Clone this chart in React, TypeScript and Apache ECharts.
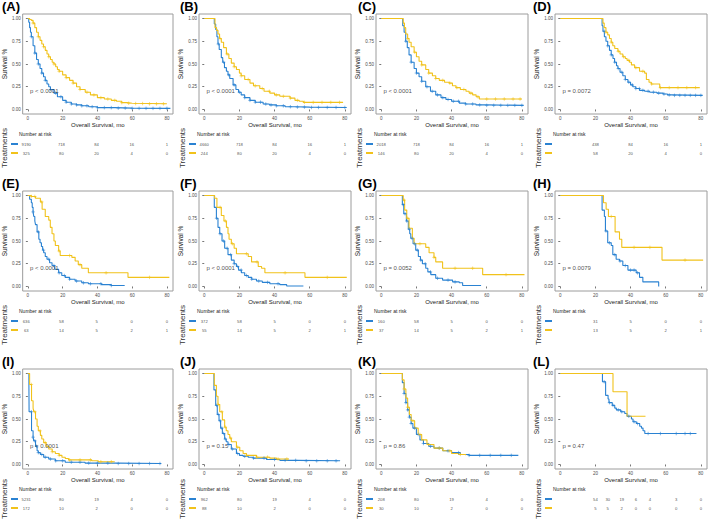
import React, { useEffect, useRef } from 'react';
import * as echarts from 'echarts';

const BLUE = '#2A82D2';
const YELLOW = '#F1C21B';
const FONT = 'Liberation Sans, Arial, sans-serif';

// ---------- Kaplan-Meier curves: [time, survival after event] ----------
const A_BLUE = [[0,1],[0.5,0.96],[1,0.9],[1.5,0.85],[2,0.8],[3,0.7],[4,0.62],[5,0.55],[6,0.5],[7,0.45],[8,0.4],[9,0.36],[10,0.32],[11,0.28],[12,0.25],[13,0.22],[15,0.18],[17,0.14],[20,0.1],[22,0.08],[25,0.06],[28,0.05],[31,0.04],[35,0.03],[40,0.02],[50,0.015],[60,0.012],[82,0.012]];
const A_YEL = [[0,1],[1,0.99],[2,0.98],[3,0.95],[4,0.9],[5,0.85],[6,0.8],[7,0.76],[8,0.72],[9,0.69],[10,0.65],[11,0.61],[12,0.58],[13,0.55],[14,0.52],[15,0.5],[16,0.47],[17,0.44],[18,0.42],[20,0.38],[22,0.35],[24,0.32],[26,0.29],[28,0.25],[30,0.22],[33,0.19],[36,0.16],[40,0.13],[44,0.115],[48,0.1],[51,0.09],[54,0.075],[57,0.068],[60,0.065],[70,0.062],[80,0.06]];
const B_BLUE = [[0,1],[5.7,0.94],[6.5,0.88],[7.2,0.8],[7.8,0.72],[8.5,0.66],[9.7,0.57],[10.5,0.52],[11.5,0.46],[12.6,0.42],[13.5,0.38],[14.5,0.34],[16.4,0.27],[18,0.22],[19.5,0.19],[21,0.16],[23,0.13],[26,0.1],[29,0.08],[33.5,0.06],[37,0.05],[41,0.04],[46,0.03],[52,0.026],[60,0.022],[81,0.02]];
const B_YEL = [[0,1],[6.1,0.9],[7,0.87],[7.8,0.83],[8.7,0.78],[9.7,0.74],[11,0.68],[12.6,0.61],[14,0.56],[15.4,0.51],[17,0.47],[18.3,0.44],[20,0.4],[21,0.37],[23,0.33],[26,0.29],[28,0.26],[31.6,0.23],[34,0.2],[37.3,0.18],[40,0.16],[43,0.145],[48.8,0.125],[51.6,0.1],[54,0.09],[56.4,0.078],[79,0.078]];
const C_BLUE = [[0,1],[12.2,0.92],[13,0.85],[13.9,0.75],[14.8,0.68],[15.8,0.6],[17,0.52],[18.7,0.45],[20,0.4],[21.5,0.36],[23,0.31],[25.3,0.25],[28,0.2],[31,0.16],[34,0.13],[36.8,0.11],[40,0.09],[44.4,0.07],[48,0.06],[53.9,0.05],[60,0.045],[81,0.042]];
const C_YEL = [[0,1],[12.5,0.95],[13.2,0.9],[13.9,0.83],[15,0.78],[15.8,0.74],[17,0.69],[18.7,0.63],[20,0.58],[21.5,0.53],[23,0.49],[25.3,0.44],[27,0.4],[29.1,0.37],[31,0.34],[33,0.32],[36,0.3],[38.7,0.29],[40.5,0.26],[42.5,0.24],[45,0.22],[48.2,0.2],[50,0.18],[52,0.16],[54,0.14],[55.8,0.115],[80,0.11]];
const D_BLUE = [[0,1],[23.8,0.92],[24.3,0.86],[25.1,0.8],[26,0.75],[27,0.7],[28,0.65],[29,0.6],[30,0.56],[30.9,0.52],[32,0.48],[32.8,0.45],[34,0.41],[35.6,0.37],[37,0.33],[38.5,0.3],[40,0.27],[41.3,0.25],[43,0.23],[45.1,0.21],[48,0.2],[50.9,0.19],[55,0.18],[58.5,0.17],[61,0.16],[64.2,0.155],[81,0.15]];
const D_YEL = [[0,1],[24.3,0.95],[25,0.9],[26,0.85],[27,0.82],[28,0.78],[29,0.74],[29.9,0.7],[31,0.67],[32.8,0.64],[34,0.61],[35.6,0.58],[37,0.56],[38,0.54],[39.4,0.52],[40.5,0.49],[42.3,0.46],[45.1,0.42],[48,0.4],[49,0.33],[50.5,0.3],[51.8,0.28],[56.6,0.24],[79.4,0.24]];
const E_BLUE = [[0,1],[1,0.96],[2,0.92],[2.5,0.87],[3,0.82],[3.4,0.77],[4,0.72],[4.4,0.68],[5.3,0.6],[6.3,0.52],[7,0.48],[7.8,0.44],[8.5,0.4],[9.1,0.37],[10,0.33],[11,0.3],[12.5,0.26],[13.9,0.23],[15.5,0.19],[17.7,0.15],[19.5,0.12],[21.5,0.1],[24,0.08],[27.2,0.06],[31,0.04],[34.8,0.03],[42.4,0.02],[48,0.01],[55.7,0.005]];
const E_YEL = [[0,1],[2,0.99],[4.4,0.97],[7.2,0.93],[8.2,0.85],[10,0.77],[12,0.73],[12.9,0.65],[13.9,0.58],[15,0.5],[15.8,0.45],[17.7,0.39],[18.6,0.34],[25.3,0.32],[27.2,0.28],[29,0.24],[31,0.2],[34.8,0.15],[57.6,0.1],[81.4,0.1]];
const F_BLUE = [[0,1],[5.7,0.87],[6.9,0.75],[7.8,0.65],[8.8,0.58],[10.1,0.5],[11.6,0.42],[13.5,0.35],[15.4,0.29],[17,0.25],[18.3,0.22],[19.5,0.18],[21.1,0.15],[23,0.12],[25,0.1],[27,0.08],[29.7,0.06],[33,0.045],[37.3,0.03],[43,0.02],[46.9,0.005],[56.4,0.005]];
const F_YEL = [[0,1],[5.9,0.97],[7.2,0.87],[9.7,0.78],[11.2,0.72],[12.6,0.65],[13.5,0.58],[14.1,0.52],[15.4,0.47],[17,0.42],[18.3,0.36],[25,0.33],[26.9,0.27],[30.7,0.22],[32.6,0.2],[34.5,0.15],[57.3,0.1],[81.1,0.1]];
const G_BLUE = [[0,1],[12,0.9],[12.8,0.8],[14.3,0.72],[15.4,0.63],[16.2,0.58],[16.8,0.53],[18.1,0.47],[19.6,0.4],[21.1,0.33],[22.3,0.29],[23.4,0.25],[25.3,0.2],[26.5,0.16],[28.2,0.13],[31,0.09],[34.9,0.07],[40.6,0.05],[44.4,0.04],[46.3,0.01],[56.8,0.01]];
const G_YEL = [[0,1],[12.5,0.95],[13.3,0.84],[14.5,0.75],[15.8,0.64],[17.7,0.53],[18.7,0.47],[25.3,0.43],[27.2,0.37],[30,0.32],[31,0.27],[34.9,0.2],[57.7,0.13],[81.5,0.13]];
const H_BLUE = [[0,1],[23.8,0.84],[25.1,0.77],[25.7,0.61],[27,0.48],[29,0.45],[29.9,0.35],[31.8,0.3],[33.7,0.28],[35.6,0.23],[38.5,0.18],[43.2,0.15],[45.1,0.1],[47,0.05],[56,0.0]];
const H_YEL = [[0,1],[24.6,0.92],[26.1,0.85],[27.4,0.77],[31.2,0.6],[33.7,0.52],[35,0.43],[57.9,0.29],[81.3,0.29]];
const I_BLUE = [[0,1],[0.6,0.86],[0.7,0.58],[2.1,0.37],[3,0.3],[3.4,0.26],[4.4,0.2],[5.3,0.15],[6,0.13],[7.2,0.11],[9.1,0.08],[12,0.06],[15.8,0.04],[21.5,0.025],[32.9,0.015],[51.9,0.01],[76.6,0.005]];
const I_YEL = [[0,1],[1,0.88],[2.1,0.7],[3,0.62],[3.4,0.58],[4.4,0.5],[5.3,0.42],[6,0.37],[7.2,0.32],[8,0.28],[9.1,0.24],[10.5,0.2],[12,0.17],[14,0.14],[15.8,0.12],[18,0.1],[19.6,0.08],[21.5,0.065],[23.4,0.05],[36.7,0.04],[40.5,0.03],[50,0.025]];
const J_BLUE = [[0,1],[5.5,0.82],[6.5,0.65],[7.4,0.55],[8.4,0.48],[9.3,0.4],[10.3,0.34],[11.6,0.28],[12.5,0.25],[13.5,0.22],[15.4,0.17],[18.3,0.12],[20,0.1],[22.1,0.09],[25,0.08],[27.8,0.07],[35.4,0.055],[43,0.045],[52.6,0.04],[77.3,0.035]];
const J_YEL = [[0,1],[5.7,0.87],[6.9,0.75],[7.8,0.66],[8.8,0.58],[10.3,0.49],[11.6,0.41],[12.5,0.37],[13.5,0.33],[14.5,0.29],[15.4,0.25],[18.3,0.19],[20.2,0.15],[22.1,0.12],[24,0.1],[29.7,0.08],[37.3,0.07],[41.1,0.06],[48.2,0.06]];
const K_BLUE = [[0,1],[12,0.9],[13,0.78],[14,0.68],[15,0.6],[16,0.52],[17,0.45],[18,0.4],[20,0.33],[22,0.27],[24,0.23],[27,0.2],[30,0.18],[35,0.15],[40,0.13],[45,0.11],[50,0.1],[78,0.1]];
const K_YEL = [[0,1],[12,0.93],[13,0.83],[14,0.73],[15,0.63],[16,0.55],[17,0.48],[19,0.4],[21,0.33],[23,0.27],[26,0.22],[30,0.18],[35,0.15],[40,0.12],[44,0.11],[48,0.1]];
const L_BLUE = [[0,1],[24,0.91],[25.8,0.76],[27.2,0.72],[27.7,0.68],[29.6,0.65],[31,0.62],[31.9,0.6],[34.4,0.58],[36.7,0.56],[38,0.53],[40.5,0.5],[41.4,0.47],[43.3,0.45],[45.2,0.42],[46.2,0.4],[47.1,0.37],[48.1,0.34],[77.5,0.34]];
const L_YEL = [[0,1],[30,0.8],[38,0.53],[48.5,0.53]];

// ---------- censoring times ----------
const CENS_EARLY_BLUE = [2,4,6,8,10,13,16,19,22,25,28,31,34,37,40,44,48,52,56,60,64,68,72,76,80];
const CENS_EARLY_YEL = [3,6,9,12,15,18,22,26,30,34,38,42,46,50,54,58,62,66,70,74,78];
const CENS_MID_BLUE = [8,11,14,17,20,23,26,29,32,35,38,41,45,49,53,57,61,65,70,75,80];
const CENS_MID_YEL = [9,13,17,21,25,29,33,37,41,45,49,53,57,62,67,72,77];
const CENS_LATE_BLUE = [14,17,20,23,26,29,32,35,38,41,44,48,52,56,60,64,68,72,76,80];
const CENS_LATE_YEL = [15,19,23,27,31,35,39,43,47,51,55,60,65,70,75,79];
const CENS_D_BLUE = [25,27,29,31,33,35,37,39,41,43,45,47,50,53,56,59,62,65,68,71,74,77,80];
const CENS_D_YEL = [26,29,33,36,39,43,47,52,57,62,67,72,77];
const CENS_E_BLUE = [3,6,9,12,15,18,21,24,28,32,36,42,48];
const CENS_E_YEL = [2,4,8,18,24,30,45,70];
const CENS_F_BLUE = [7,9,11,13,15,17,19,21,24,27,31,36,42];
const CENS_F_YEL = [9,12,16,24,30,46,70];
const CENS_G_BLUE = [12.5,13.5,14.5,16,17.5,19,20.5,22.5,25,28,32,38,42];
const CENS_G_YEL = [13,15,22,30,42,52,71];
const CENS_H_BLUE = [26,28,31,34,37,40,42,44];
const CENS_H_YEL = [29,42,51,71];
const CENS_I_BLUE = [2,3,4,5,6,8,10,13,16,20,25,30,35,40,46,52,58,64,70,76];
const CENS_I_YEL = [2,4,7,10,14,18,24,30,36,42,48];
const CENS_J_BLUE = [7,8,9,10,11,12,14,16,19,23,28,34,40,46,52,58,64,70,75];
const CENS_J_YEL = [8,10,12,15,19,24,30,36,42,47];
const CENS_K_BLUE = [13,14,15,16,17,19,21,24,28,33,38,44,50,56,62,68,74];
const CENS_K_YEL = [13,15,18,22,27,33,39,45];
const CENS_L_BLUE = [25,28,30,33,35,39,42,44,50,57,66,71,74];
const CENS_L_YEL = [];

// ---------- numbers at risk ----------
const RISK_T_STD = [0,20,40,60,80];
const RISK_T_LATE = [20,40,60,80];
const RISK_T_L = [20,27,35,43,51,66,80];
const A_RISK_BLUE = [9190,718,84,16,1];
const A_RISK_YEL = [325,80,20,4,0];
const B_RISK_BLUE = [4660,718,84,16,1];
const B_RISK_YEL = [244,80,20,4,0];
const C_RISK_BLUE = [2018,718,84,16,1];
const C_RISK_YEL = [146,80,20,4,0];
const D_RISK_BLUE = [438,84,16,1];
const D_RISK_YEL = [58,20,4,0];
const E_RISK_BLUE = [636,58,5,0,0];
const E_RISK_YEL = [63,14,5,2,1];
const F_RISK_BLUE = [372,58,5,0,0];
const F_RISK_YEL = [55,14,5,2,1];
const G_RISK_BLUE = [160,58,5,0,0];
const G_RISK_YEL = [37,14,5,2,1];
const H_RISK_BLUE = [31,5,0,0];
const H_RISK_YEL = [13,5,2,1];
const I_RISK_BLUE = [5231,80,19,4,0];
const I_RISK_YEL = [172,10,2,0,0];
const J_RISK_BLUE = [962,80,19,4,0];
const J_RISK_YEL = [88,10,2,0,0];
const K_RISK_BLUE = [208,80,19,4,0];
const K_RISK_YEL = [30,10,2,0,0];
const L_RISK_BLUE = [54,30,19,6,4,3,0];
const L_RISK_YEL = [5,5,2,0,0,0,0];

const PANEL_LABELS = ['(A)','(B)','(C)','(D)','(E)','(F)','(G)','(H)','(I)','(J)','(K)','(L)'];
const P_VALUES = ['p < 0.0001','p < 0.0001','p < 0.0001','p = 0.0072','p < 0.0001','p < 0.0001','p = 0.0052','p = 0.0079','p < 0.0001','p = 0.15','p = 0.86','p = 0.47'];
const X_TICKS = [0,20,40,60,80];
const Y_TICKS = [0,0.25,0.5,0.75,1];

const PANELS = [
  { blue: A_BLUE, yel: A_YEL, cb: CENS_EARLY_BLUE, cy: CENS_EARLY_YEL, rt: RISK_T_STD, rb: A_RISK_BLUE, ry: A_RISK_YEL },
  { blue: B_BLUE, yel: B_YEL, cb: CENS_MID_BLUE, cy: CENS_MID_YEL, rt: RISK_T_STD, rb: B_RISK_BLUE, ry: B_RISK_YEL },
  { blue: C_BLUE, yel: C_YEL, cb: CENS_LATE_BLUE, cy: CENS_LATE_YEL, rt: RISK_T_STD, rb: C_RISK_BLUE, ry: C_RISK_YEL },
  { blue: D_BLUE, yel: D_YEL, cb: CENS_D_BLUE, cy: CENS_D_YEL, rt: RISK_T_LATE, rb: D_RISK_BLUE, ry: D_RISK_YEL },
  { blue: E_BLUE, yel: E_YEL, cb: CENS_E_BLUE, cy: CENS_E_YEL, rt: RISK_T_STD, rb: E_RISK_BLUE, ry: E_RISK_YEL },
  { blue: F_BLUE, yel: F_YEL, cb: CENS_F_BLUE, cy: CENS_F_YEL, rt: RISK_T_STD, rb: F_RISK_BLUE, ry: F_RISK_YEL },
  { blue: G_BLUE, yel: G_YEL, cb: CENS_G_BLUE, cy: CENS_G_YEL, rt: RISK_T_STD, rb: G_RISK_BLUE, ry: G_RISK_YEL },
  { blue: H_BLUE, yel: H_YEL, cb: CENS_H_BLUE, cy: CENS_H_YEL, rt: RISK_T_LATE, rb: H_RISK_BLUE, ry: H_RISK_YEL },
  { blue: I_BLUE, yel: I_YEL, cb: CENS_I_BLUE, cy: CENS_I_YEL, rt: RISK_T_STD, rb: I_RISK_BLUE, ry: I_RISK_YEL },
  { blue: J_BLUE, yel: J_YEL, cb: CENS_J_BLUE, cy: CENS_J_YEL, rt: RISK_T_STD, rb: J_RISK_BLUE, ry: J_RISK_YEL },
  { blue: K_BLUE, yel: K_YEL, cb: CENS_K_BLUE, cy: CENS_K_YEL, rt: RISK_T_STD, rb: K_RISK_BLUE, ry: K_RISK_YEL },
  { blue: L_BLUE, yel: L_YEL, cb: CENS_L_BLUE, cy: CENS_L_YEL, rt: RISK_T_L, rb: L_RISK_BLUE, ry: L_RISK_YEL },
];

// layout
const COL_LEFT = [21, 199, 376, 555];
const LABEL_X = [2, 180, 358, 533];
const ROW_TOP = [14, 191, 369];
const TREAT_Y = [148, 325, 499];
const PW = 152;
const PH = 100;
const X_MIN = -3;
const X_MAX = 83.5;

const PLUS = 'path://M0,4L8,4M4,0L4,8';

function survAt(curve: number[][], t: number) {
  let s = curve[0][1];
  for (const p of curve) {
    if (p[0] <= t) s = p[1];
    else break;
  }
  return s;
}

function censorPoints(curve: number[][], times: number[]) {
  const end = curve[curve.length - 1][0];
  return times.filter((t) => t <= end).map((t) => [t, survAt(curve, t)]);
}

function buildOption() {
  const grid: any[] = [];
  const xAxis: any[] = [];
  const yAxis: any[] = [];
  const series: any[] = [];
  const graphic: any[] = [];

  PANELS.forEach((pn, i) => {
    const col = i % 4;
    const row = Math.floor(i / 4);
    const left = COL_LEFT[col];
    const top = ROW_TOP[row];
    const g = 2 * i;

    grid.push({ left, top, width: PW, height: PH, show: true, borderColor: '#9c9c9c', borderWidth: 1, backgroundColor: '#ffffff' });
    grid.push({ left, top: top + 125.5, width: PW, height: 18 });

    xAxis.push({
      gridIndex: g, type: 'value', min: X_MIN, max: X_MAX,
      name: 'Overall Survival, mo', nameLocation: 'middle', nameGap: 7,
      nameTextStyle: { fontSize: 6, color: '#222', fontFamily: FONT },
      axisLine: { show: false },
      axisTick: { show: true, length: 2, customValues: X_TICKS, lineStyle: { color: '#555', width: 0.8 } },
      axisLabel: { customValues: X_TICKS, fontSize: 4.5, margin: 2, color: '#4d4d4d', fontFamily: FONT },
      splitLine: { show: false },
    });
    xAxis.push({ gridIndex: g + 1, type: 'value', min: X_MIN, max: X_MAX, show: false });

    yAxis.push({
      gridIndex: g, type: 'value', min: -0.05, max: 1.05,
      name: 'Survival %', nameLocation: 'middle', nameGap: 13, nameRotate: 90,
      nameTextStyle: { fontSize: 6.5, color: '#222', fontFamily: FONT },
      axisLine: { show: false },
      axisTick: { show: true, length: 2, customValues: Y_TICKS, lineStyle: { color: '#555', width: 0.8 } },
      axisLabel: { customValues: Y_TICKS, fontSize: 4.5, margin: 2, color: '#4d4d4d', fontFamily: FONT, formatter: (v: number) => v.toFixed(2) },
      splitLine: { show: false },
    });
    yAxis.push({ gridIndex: g + 1, type: 'value', min: 0, max: 2, show: false });

    const lineSeries = (data: number[][], color: string) => ({
      type: 'line', xAxisIndex: g, yAxisIndex: g, data, step: 'end',
      symbol: 'none', showSymbol: false, lineStyle: { color, width: 1.1 }, z: 3,
    });
    const censorSeries = (data: number[][], color: string) => ({
      type: 'scatter', xAxisIndex: g, yAxisIndex: g, data, symbol: PLUS, symbolSize: 3.5,
      itemStyle: { color: 'rgba(0,0,0,0)', borderColor: color, borderWidth: 0.7 }, z: 4,
    });
    series.push(lineSeries(pn.blue, BLUE));
    series.push(censorSeries(censorPoints(pn.blue, pn.cb), BLUE));
    series.push(lineSeries(pn.yel, YELLOW));
    series.push(censorSeries(censorPoints(pn.yel, pn.cy), YELLOW));

    series.push({
      type: 'scatter', xAxisIndex: g, yAxisIndex: g, data: [[1.2, 0.2]], symbolSize: 0, z: 6,
      label: { show: true, position: 'right', distance: 0, formatter: P_VALUES[i], fontSize: 6, color: '#1a1a1a', fontFamily: FONT },
    });

    const riskSeries = (counts: number[], yv: number) => ({
      type: 'scatter', xAxisIndex: g + 1, yAxisIndex: g + 1,
      data: pn.rt.map((t, j) => [t, yv, counts[j]]), symbolSize: 0,
      label: { show: true, position: 'inside', formatter: (p: any) => String(p.value[2]), fontSize: 4.2, color: '#222', fontFamily: FONT },
    });
    series.push(riskSeries(pn.rb, 1.5));
    series.push(riskSeries(pn.ry, 0.5));

    graphic.push({ type: 'text', x: LABEL_X[col], y: top - 7.5, style: { text: PANEL_LABELS[i], fontSize: 13, fontWeight: 'bold', fill: '#000', fontFamily: FONT, verticalAlign: 'middle', align: 'left' } });
    graphic.push({ type: 'text', x: left - 2, y: top + 120, style: { text: 'Number at risk', fontSize: 5, fill: '#222', fontFamily: FONT, verticalAlign: 'middle', align: 'left' } });
    graphic.push({ type: 'text', x: left - 17, y: TREAT_Y[row], rotation: Math.PI / 2, style: { text: 'Treatments', fontSize: 8, fill: '#333', fontFamily: FONT, verticalAlign: 'middle', align: 'center' } });
    graphic.push({ type: 'rect', shape: { x: left - 10, y: top + 129, width: 7, height: 2 }, style: { fill: BLUE } });
    graphic.push({ type: 'rect', shape: { x: left - 10, y: top + 138, width: 7, height: 2 }, style: { fill: YELLOW } });
  });

  return {
    animation: false,
    backgroundColor: '#ffffff',
    textStyle: { fontFamily: FONT },
    grid, xAxis, yAxis, series, graphic,
  };
}

export default function App() {
  const ref = useRef<HTMLDivElement>(null);
  useEffect(() => {
    if (!ref.current) return;
    const chart = echarts.init(ref.current, undefined, { renderer: 'svg' });
    chart.setOption(buildOption() as any);
    return () => chart.dispose();
  }, []);
  return <div ref={ref} style={{ position: 'fixed', left: 0, top: 0, width: 709, height: 520, background: '#fff' }} />;
}
